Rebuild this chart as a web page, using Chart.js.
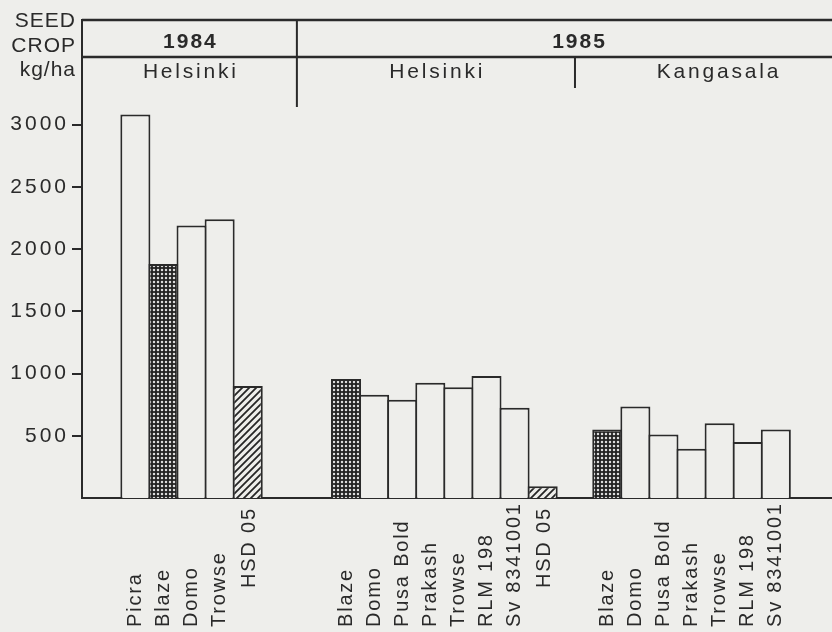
<!DOCTYPE html>
<html>
<head>
<meta charset="utf-8">
<script src="https://cdn.jsdelivr.net/npm/chart.js@4.4.1/dist/chart.umd.min.js"></script>
<style>
  html, body { margin: 0; padding: 0; background: #eeeeeb; }
</style>
</head>
<body>
<canvas id="seedCrop" width="832" height="632"></canvas>
<script>
// Seed crop kg/ha, 1984 Helsinki / 1985 Helsinki & Kangasala

const years = ['1984', '1985'];
const sites = ['Helsinki', 'Helsinki', 'Kangasala'];

const varieties1984 = ['Picra', 'Blaze', 'Domo', 'Trowse', 'HSD 05'];
const yields1984 = [3080, 1880, 2190, 2240, 900];

const varietiesHel85 = ['Blaze', 'Domo', 'Pusa Bold', 'Prakash', 'Trowse', 'RLM 198', 'Sv 8341001', 'HSD 05'];
const yieldsHel85 = [955, 830, 790, 925, 890, 980, 725, 95];

const varietiesKan85 = ['Blaze', 'Domo', 'Pusa Bold', 'Prakash', 'Trowse', 'RLM 198', 'Sv 8341001'];
const yieldsKan85 = [550, 735, 510, 395, 600, 450, 550];

const yTicks = [500, 1000, 1500, 2000, 2500, 3000];

const ink = '#2a2a2a';
const paper = '#eeeeeb';
const family = '"Liberation Sans", Arial, sans-serif';

// spacing before each group and after the last one (in bar widths)
const gaps = [1.4, 2.5, 1.3];
const trail = 1.5;

const groupNames = [varieties1984, varietiesHel85, varietiesKan85];
const groupValues = [yields1984, yieldsHel85, yieldsKan85];

// lay the bars out on a linear axis, one unit per bar
const points = [];
const groupRange = [];
let pos = 0;
groupNames.forEach((names, g) => {
  pos += gaps[g];
  const first = pos + 0.5;
  names.forEach((n, i) => {
    points.push({ x: first + i, y: groupValues[g][i], name: n });
  });
  pos += names.length;
  groupRange.push([first, first + names.length - 1]);
});
const xMin = 0;
const xMax = pos + trail;

// fills
function dotPattern() {
  const c = document.createElement('canvas');
  c.width = 4; c.height = 4;
  const g = c.getContext('2d');
  g.fillStyle = '#222';
  g.fillRect(0, 0, 4, 4);
  g.fillStyle = '#dcdcdc';
  g.beginPath();
  g.arc(2, 2, 1.25, 0, Math.PI * 2);
  g.fill();
  return g.createPattern(c, 'repeat');
}
function hatchPattern() {
  const s = 7;
  const c = document.createElement('canvas');
  c.width = s; c.height = s;
  const g = c.getContext('2d');
  g.fillStyle = paper;
  g.fillRect(0, 0, s, s);
  g.strokeStyle = '#262626';
  g.lineWidth = 1.8;
  g.beginPath();
  g.moveTo(0, s); g.lineTo(s, 0);
  g.moveTo(-s / 2, s / 2); g.lineTo(s / 2, -s / 2);
  g.moveTo(s / 2, s * 1.5); g.lineTo(s * 1.5, s / 2);
  g.stroke();
  return g.createPattern(c, 'repeat');
}
const dots = dotPattern();
const hatch = hatchPattern();
const fills = points.map(p => p.name === 'Blaze' ? dots : p.name === 'HSD 05' ? hatch : paper);

function text(ctx, s, x, y, align, size, bold, ls) {
  ctx.save();
  ctx.font = (bold ? 'bold ' : '') + size + 'px ' + family;
  ctx.letterSpacing = ls + 'px';
  ctx.fillStyle = ink;
  ctx.textBaseline = 'middle';
  ctx.textAlign = 'left';
  const w = ctx.measureText(s).width - ls;
  const x0 = align === 'center' ? x - w / 2 : align === 'right' ? x - w : x;
  ctx.fillText(s, x0, y);
  ctx.restore();
}

const headerPlugin = {
  id: 'header',
  afterDraw(chart) {
    const ctx = chart.ctx;
    const xs = chart.scales.x;
    const ys = chart.scales.y;
    const area = chart.chartArea;
    const top = area.top;
    const mid = top + 37;
    const left = area.left;
    const right = chart.width;
    const farRight = xs.getPixelForValue(xMax + 1);

    // separators between groups
    const seps = [];
    for (let g = 1; g < groupRange.length; g++) {
      seps.push(xs.getPixelForValue((groupRange[g - 1][1] + groupRange[g][0]) / 2));
    }

    ctx.save();
    ctx.strokeStyle = ink;
    ctx.lineWidth = 2.5;
    ctx.beginPath();
    ctx.moveTo(left, top); ctx.lineTo(right, top);
    ctx.moveTo(left, mid); ctx.lineTo(right, mid);
    ctx.stroke();
    ctx.lineWidth = 2;
    ctx.beginPath();
    ctx.moveTo(seps[0], top); ctx.lineTo(seps[0], top + 87);
    ctx.moveTo(seps[1], mid); ctx.lineTo(seps[1], mid + 31);
    ctx.stroke();
    ctx.restore();

    // unit label
    text(ctx, 'SEED', 75, top + 1, 'right', 21, false, 1);
    text(ctx, 'CROP', 75, top + 26, 'right', 21, false, 1);
    text(ctx, 'kg/ha', 75, top + 50, 'right', 21, false, 1);

    // years
    const yearCells = [[left, seps[0]], [seps[0], farRight]];
    years.forEach((y, i) => {
      text(ctx, y, (yearCells[i][0] + yearCells[i][1]) / 2, top + 22, 'center', 21, true, 2);
    });
    // sites
    const siteCells = [[left, seps[0]], [seps[0], seps[1]], [seps[1], farRight]];
    sites.forEach((s, i) => {
      text(ctx, s, (siteCells[i][0] + siteCells[i][1]) / 2, top + 52, 'center', 21, false, 2.8);
    });

    // y tick labels
    yTicks.forEach(v => {
      text(ctx, String(v), 66, ys.getPixelForValue(v), 'right', 21, false, 3);
    });

    // variety labels, rotated
    points.forEach(p => {
      const x = xs.getPixelForValue(p.x);
      ctx.save();
      if (p.name === 'HSD 05') {
        ctx.translate(x + 2, area.bottom + 11);
        ctx.rotate(-Math.PI / 2);
        text(ctx, p.name, 0, 0, 'right', 20, false, 1.8);
      } else {
        ctx.translate(x, area.bottom + 129);
        ctx.rotate(-Math.PI / 2);
        text(ctx, p.name, 0, 0, 'left', 20, false, 1.8);
      }
      ctx.restore();
    });
  }
};

const ctxSeed = document.getElementById('seedCrop').getContext('2d');
const seedChart = new Chart(ctxSeed, {
  type: 'bar',
  data: {
    datasets: [
      {
        label: 'kg/ha',
        data: points,
        backgroundColor: fills,
        borderColor: ink,
        borderWidth: 2,
        barPercentage: 1.07,
        categoryPercentage: 1
      }
    ]
  },
  options: {
    responsive: false,
    animation: false,
    events: [],
    layout: { padding: { top: 20, left: 0, right: 0, bottom: 0 } },
    scales: {
      x: {
        type: 'linear',
        offset: false,
        bounds: 'data',
        min: xMin,
        max: xMax,
        grid: { display: false },
        border: { display: true, color: ink, width: 2 },
        ticks: { display: false, stepSize: 5 },
        afterFit: s => { s.height = 134; }
      },
      y: {
        min: 0,
        max: 3840,
        grid: { drawOnChartArea: false, drawTicks: true, tickLength: 10, color: ink, lineWidth: 2 },
        border: { display: true, color: ink, width: 2 },
        ticks: { display: false },
        afterBuildTicks: s => { s.ticks = yTicks.map(v => ({ value: v })); },
        afterFit: s => { s.width = 82; }
      }
    },
    plugins: {
      legend: { display: false },
      tooltip: { enabled: false }
    }
  },
  plugins: [headerPlugin]
});
</script>
</body>
</html>
